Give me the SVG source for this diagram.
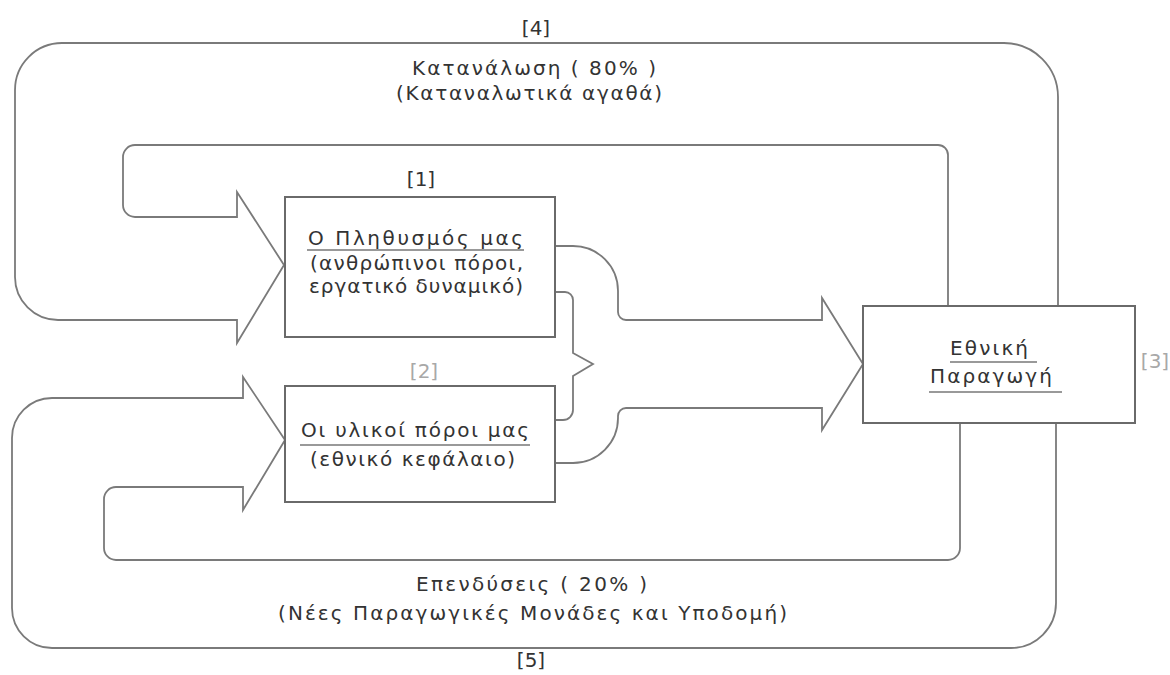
<svg xmlns="http://www.w3.org/2000/svg" width="1170" height="675" viewBox="0 0 1170 675">
<style>
.ln{fill:none;stroke:#7a7a7a;stroke-width:1.8;stroke-linejoin:miter}
.box{fill:#fff;stroke:#6a6a6a;stroke-width:2}
.t{font-family:"DejaVu Sans","Liberation Sans",sans-serif;font-size:20px;fill:#333}
.g{fill:#a8a8a8}
.ul{stroke:#777;stroke-width:1.5}
</style>
<rect width="1170" height="675" fill="#fff"/>
<g id="connectors">
<path id="loop-consumption" class="ln" d="M1058,306 V97 A54,54 0 0 0 1004,43 H62 A47,47 0 0 0 15,90 V277 A43,43 0 0 0 58,320 H237 V343 L284,265 L237,192 V217 H135 A12,12 0 0 1 123,205 V157 A12,12 0 0 1 135,145 H938 A10,10 0 0 1 948,155 V306"/>
<path id="loop-investment" class="ln" d="M1056,423 V603 A45,45 0 0 1 1011,648 H52 A40,40 0 0 1 12,608 V438 A40,40 0 0 1 52,398 H243 V377 L285,440 L243,510 V487 H116 A12,12 0 0 0 104,499 V548 A12,12 0 0 0 116,560 H948 A12,12 0 0 0 960,548 V423"/>
<path id="merge-outer" class="ln" d="M555,246 H573 A45,45 0 0 1 618,291 V312 A8,8 0 0 0 626,320 H822 V298 L863,364 L822,430 V408 H626 A8,8 0 0 0 618,416 V418 A45,45 0 0 1 573,463 H555"/>
<path id="merge-inner" class="ln" d="M555,292 H565 A8,8 0 0 1 573,300 V353 L593,364 L573,376 V410 A10,10 0 0 1 563,420 H555"/>
</g>
<g id="loop-labels">
<text class="t" x="536" y="35" text-anchor="middle">[4]</text>
<text class="t" x="412" y="75" textLength="244" lengthAdjust="spacing">Κατανάλωση ( 80% )</text>
<text class="t" x="396" y="100" textLength="266" lengthAdjust="spacing">(Καταναλωτικά αγαθά)</text>
<text class="t" x="416" y="591" textLength="231" lengthAdjust="spacing">Επενδύσεις ( 20% )</text>
<text class="t" x="278" y="620" textLength="509" lengthAdjust="spacing">(Νέες Παραγωγικές Μονάδες και Υποδομή)</text>
<text class="t" x="531" y="667" text-anchor="middle">[5]</text>
</g>
<g id="node-population">
<rect class="box" x="285" y="197" width="270" height="140"/>
<text class="t" x="421" y="186" text-anchor="middle">[1]</text>
<text class="t" x="308" y="245" textLength="215" lengthAdjust="spacing">Ο Πληθυσμός μας</text>
<line class="ul" x1="307" y1="250" x2="524" y2="250"/>
<text class="t" x="310" y="270" textLength="213" lengthAdjust="spacing">(ανθρώπινοι πόροι,</text>
<text class="t" x="309" y="293" textLength="214" lengthAdjust="spacing">εργατικό δυναμικό)</text>
</g>
<g id="node-material">
<rect class="box" x="285" y="386" width="270" height="116"/>
<text class="t g" x="424" y="378" text-anchor="middle">[2]</text>
<text class="t" x="301" y="437" textLength="228" lengthAdjust="spacing">Οι υλικοί πόροι μας</text>
<line class="ul" x1="300" y1="445" x2="530" y2="445"/>
<text class="t" x="310" y="466" textLength="205" lengthAdjust="spacing">(εθνικό κεφάλαιο)</text>
</g>
<g id="node-production">
<rect class="box" x="863" y="306" width="272" height="117"/>
<text class="t" x="950" y="355" textLength="78" lengthAdjust="spacing">Εθνική</text>
<line class="ul" x1="950" y1="362" x2="1037" y2="362"/>
<text class="t" x="930" y="383" textLength="122" lengthAdjust="spacing">Παραγωγή</text>
<line class="ul" x1="929" y1="392" x2="1062" y2="392"/>
<text class="t g" x="1155" y="368" text-anchor="middle">[3]</text>
</g>
</svg>
